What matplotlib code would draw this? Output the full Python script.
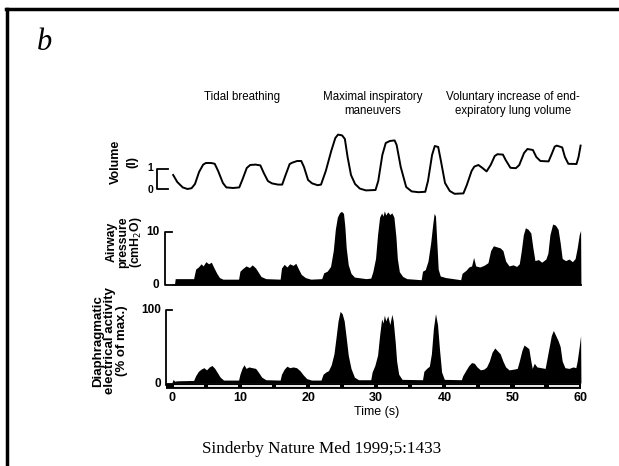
import numpy as np
import matplotlib.pyplot as plt
from matplotlib.lines import Line2D

plt.rcParams['font.family'] = ['Liberation Sans', 'DejaVu Sans']

# lung volume (l)
vol_t = [0.2, 0.8, 1.6, 2.3, 2.9, 3.4, 4.0, 4.6, 5.0, 5.8, 6.3, 6.8, 7.5, 8.0, 9.0, 9.9,
         10.4, 11.0, 11.5, 12.3, 13.0, 13.5, 14.1, 14.7, 15.6, 16.2, 16.7, 17.3, 17.7, 18.4,
         19.0, 19.4, 20.0, 20.6, 21.4, 21.9, 22.6, 23.4, 24.0, 24.4, 25.0, 25.4, 25.8, 26.3,
         26.9, 27.6, 28.5, 29.9, 30.3, 30.9, 31.4, 32.0, 32.7, 33.0, 33.6, 34.4, 35.2, 36.2,
         37.2, 37.6, 38.2, 38.6, 39.1, 39.5, 40.1, 40.8, 41.5, 42.8, 43.3, 44.0, 44.4, 45.0,
         45.6, 46.2, 46.8, 47.4, 47.8, 48.6, 49.0, 49.7, 50.5, 51.0, 51.7, 52.2, 53.0, 53.5,
         54.1, 55.3, 55.7, 56.2, 56.5, 57.3, 57.7, 58.2, 59.4, 59.7, 60.0]
vol_l = [0.70, 0.35, 0.08, 0.00, 0.04, 0.25, 0.85, 1.22, 1.30, 1.30, 1.26, 0.90, 0.30, 0.08, 0.05, 0.08,
         0.50, 1.05, 1.20, 1.22, 1.18, 0.80, 0.40, 0.28, 0.22, 0.22, 0.70, 1.25, 1.32, 1.40,
         1.40, 1.10, 0.45, 0.28, 0.19, 0.22, 0.90, 1.90, 2.55, 2.72, 2.68, 2.50, 1.60, 0.70,
         0.25, 0.02, -0.07, -0.05, 0.40, 1.70, 2.30, 2.40, 2.43, 2.20, 1.10, 0.10, -0.12, -0.16,
         -0.14, 0.40, 1.70, 2.15, 2.10, 1.40, 0.30, -0.10, -0.24, -0.22, 0.20, 0.90, 1.12, 1.20,
         1.05, 0.88, 1.20, 1.65, 1.74, 1.72, 1.45, 1.06, 1.04, 1.20, 1.80, 2.00, 1.95, 1.60,
         1.40, 1.38, 1.70, 2.12, 2.17, 2.08, 1.60, 1.26, 1.25, 1.60, 2.17]

# airway pressure (cmH2O)
paw_t = [0.0, 0.4, 0.5, 3.2,
         3.5, 3.9, 4.3, 4.6, 5.0, 5.4, 5.8, 6.2, 6.6, 7.0, 7.5, 9.8,
         10.0, 10.4, 10.9, 11.4, 11.8, 12.3, 12.7, 13.1, 13.8, 15.9,
         16.1, 16.5, 16.9, 17.3, 17.8, 18.2, 18.6, 19.0, 19.6, 20.4, 22.0,
         22.3, 22.8, 23.3, 23.7, 24.0, 24.3, 24.6, 24.9, 25.2, 25.4, 25.6, 25.9, 26.3, 26.8, 28.5,
         29.2, 29.5, 29.9, 30.2, 30.5, 30.8, 31.0, 31.2, 31.4, 31.7, 32.0, 32.3, 32.6, 32.9, 33.1,
         33.4, 33.9, 34.5, 36.6,
         36.8, 37.2, 37.6, 38.0, 38.3, 38.5, 38.7, 38.9, 39.1, 39.4, 40.2, 42.4,
         42.6, 43.2, 43.6, 44.0, 44.3, 44.6, 45.2, 45.8, 46.4, 46.8, 47.2, 47.7, 48.2, 48.6, 49.0,
         49.5, 50.1, 50.6, 51.0,
         51.3, 51.6, 51.9, 52.3, 52.7, 53.0, 53.3, 53.8, 54.3, 54.9, 55.2,
         55.5, 55.9, 56.3, 56.7, 57.0, 57.3, 57.8, 58.3, 58.8, 59.2,
         59.5, 59.8, 60.0, 60.05]
paw_cm = [0.2, 0.2, 1.2, 1.2,
          3.0, 3.4, 4.0, 3.6, 4.4, 4.0, 4.3, 3.2, 2.2, 1.4, 1.1, 1.1,
          2.6, 3.1, 3.6, 3.3, 3.8, 3.2, 2.4, 1.6, 1.2, 1.1,
          3.2, 3.9, 3.4, 4.0, 3.7, 4.1, 3.0, 2.0, 1.4, 1.1, 1.2,
          2.3, 2.6, 3.5, 6.5, 10.5, 12.8, 13.6, 13.9, 13.5, 11.0, 7.0, 3.8, 2.2, 1.5, 1.2,
          1.3, 2.5, 5.0, 9.5, 12.8, 13.6, 13.0, 14.0, 13.2, 13.8, 13.3, 13.6, 12.8, 9.0, 5.0,
          2.5, 1.6, 1.2, 1.0,
          2.6, 2.9, 4.5, 8.0, 11.5, 13.5, 13.0, 8.0, 3.0, 1.7, 1.4, 1.0,
          2.2, 2.8, 3.4, 3.6, 5.2, 3.6, 3.4, 3.7, 4.2, 6.5, 7.4, 7.2, 7.0, 6.5, 4.5,
          3.6, 3.8, 3.5, 4.0,
          6.5, 9.5, 10.8, 10.5, 9.8, 7.0, 4.6, 4.8, 4.3, 4.9, 6.0,
          9.5, 11.5, 11.3, 10.5, 8.0, 5.0, 4.6, 4.9, 4.4, 5.0,
          7.0, 9.5, 10.3, 0.0]

# diaphragm electrical activity (% of max.)
edi_t = [0.0, 0.2, 0.4, 0.8, 3.2,
         3.5, 3.9, 4.3, 4.7, 5.1, 5.5, 5.9, 6.3, 6.7, 7.1, 7.6, 9.8,
         10.0, 10.3, 10.6, 10.9, 11.3, 11.8, 12.3, 12.7, 13.2, 13.8, 15.9,
         16.1, 16.5, 16.9, 17.3, 17.8, 18.3, 18.8, 19.3, 19.8, 20.5, 21.9,
         22.2, 22.6, 23.0, 23.4, 23.8, 24.1, 24.4, 24.7, 25.0, 25.3, 25.6, 25.9, 26.3, 26.8, 27.4,
         29.2, 29.4, 29.8, 30.2, 30.5, 30.8, 31.0, 31.2, 31.4, 31.7, 32.0, 32.3, 32.5, 32.8,
         33.0, 33.3, 33.8, 36.8,
         37.0, 37.4, 37.8, 38.1, 38.4, 38.7, 39.0, 39.3, 39.6, 40.0, 42.5,
         42.7, 43.2, 43.6, 44.0, 44.4, 44.8, 45.3, 45.8, 46.2, 46.6, 47.0, 47.4, 47.8, 48.2,
         48.6, 49.0, 49.5, 50.2, 50.7,
         51.0, 51.4, 51.7, 52.0, 52.4, 52.7, 52.9, 53.2, 53.6, 54.2, 54.8,
         55.0, 55.3, 55.7, 56.0, 56.3, 56.7, 57.0, 57.3, 57.7, 58.3, 58.9, 59.3,
         59.5, 59.8, 60.0, 60.05]
edi_pct = [0, 5, 2.5, 3, 3.5,
           10, 16, 19, 21, 18, 22, 24, 20, 14, 8, 4, 4,
           12, 20, 25, 20, 22, 21, 20, 15, 8, 4.5, 4,
           12, 19, 23, 21, 22, 21, 17, 11, 6, 4, 4,
           12, 15, 17, 25, 40, 62, 85, 98, 95, 85, 62, 38, 20, 8, 4.5,
           4.5, 15, 24, 38, 65, 88, 82, 93, 85, 92, 80, 94, 85, 55,
           30, 12, 5, 4.5,
           16, 20, 23, 40, 75, 95, 80, 45, 15, 5, 4.5,
           10, 18, 24, 28, 27, 22, 18, 19, 22, 30, 42, 48, 44, 40,
           30, 22, 18, 19, 20,
           30, 45, 52, 50, 47, 30, 20, 27, 22, 21, 20,
           30, 45, 65, 72, 66, 58, 50, 30, 21, 20, 22, 21,
           30, 50, 65, 0]

time_ticks = [0, 10, 20, 30, 40, 50, 60]
phase_names = ['Tidal breathing', 'Maximal inspiratory\nmaneuvers',
               'Voluntary increase of end-\nexpiratory lung volume']
phase_x = [242, 373, 513]

W, H = 619, 466
fig = plt.figure(figsize=(W / 100, H / 100), dpi=100)


def box(left, top, right, bottom):
    return [left / W, 1 - bottom / H, (right - left) / W, (bottom - top) / H]


X0, X1 = 165, 584
XL = (-1, 60.5)
ax_v = fig.add_axes(box(X0, 129, X1, 199))
ax_p = fig.add_axes(box(X0, 208.15, X1, 287.65))
ax_e = fig.add_axes(box(X0, 306.35, X1, 388.84))
for ax in (ax_v, ax_p, ax_e):
    ax.set_xlim(*XL)
    ax.axis('off')
ax_v.set_ylim(-0.5, 3.0)
ax_p.set_ylim(-0.5, 14.5)
ax_e.set_ylim(-8, 105)

k = 'black'
tfs = 8.5
fw = 'bold'
# volume trace + 1 l bracket
ax_v.plot(vol_t, vol_l, color=k, lw=1.4)
ax_v.plot([-0.6, -2.2, -2.2, -0.6], [1, 1, 0, 0], color=k, lw=1.3, clip_on=False)
ax_v.text(-2.7, 1.05, '1', ha='right', va='center', fontsize=tfs - 1, weight=fw)
ax_v.text(-2.7, -0.05, '0', ha='right', va='center', fontsize=tfs - 1, weight=fw)

# airway pressure
ax_p.fill_between(paw_t, 0, paw_cm, color=k, lw=0)
ax_p.plot([0.0, -1.0, -1.0, 60.05], [10, 10, 0, 0], color=k, lw=1.3, clip_on=False)
ax_p.text(-1.8, 10, '10', ha='right', va='center', fontsize=tfs, weight=fw)
ax_p.text(-1.8, 0, '0', ha='right', va='center', fontsize=tfs, weight=fw)

# diaphragm EMG
ax_e.fill_between(edi_t, 0, edi_pct, color=k, lw=0)
ax_e.plot([0.0, -0.85, -0.85], [100, 100, -3], color=k, lw=1.3, clip_on=False)
ax_e.text(-1.6, 100, '100', ha='right', va='center', fontsize=tfs, weight=fw)
ax_e.text(-1.6, -1, '0', ha='right', va='center', fontsize=tfs, weight=fw)
# time marker bar
ax_e.plot([-0.85, 60.05], [-3.5, -3.5], color=k, lw=4.2, solid_capstyle='butt')
for a in range(0, 60, 5):
    ax_e.plot([a + 0.3, a + 4.7], [-3.5, -3.5], color='white', lw=1.3, solid_capstyle='butt')
for t in time_ticks:
    ax_e.text(t, -20, str(t), ha='center', va='center', fontsize=9, weight=fw)
ax_e.text(30, -40, 'Time (s)', ha='center', va='center', fontsize=9)

# y labels
fig.text(124 / W, 1 - 162 / H, 'Volume\n(l)', rotation=90, ha='center', va='center',
         fontsize=9, weight=fw, linespacing=1.5)
fig.text(125 / W, 1 - 242 / H, 'Airway\npressure\n(cmH$_2$O)', rotation=90, ha='center',
         va='center', fontsize=8.8, weight=fw, linespacing=0.95)
fig.text(110 / W, 1 - 341 / H, 'Diaphragmatic\nelectrical activity\n(% of max.)', rotation=90,
         ha='center', va='center', fontsize=9.5, weight=fw, linespacing=1.0)

# phase headers
for name, x in zip(phase_names, phase_x):
    fig.text(x / W, 1 - 91 / H, name, ha='center', va='top', fontsize=8.3, linespacing=1.2)

fig.text(44 / W, 1 - 43 / H, 'b', family='Liberation Serif', style='italic', fontsize=22,
         ha='center', va='center')
fig.text(322 / W, 1 - 449 / H, 'Sinderby Nature Med 1999;5:1433', family='Liberation Serif',
         fontsize=12.3, ha='center', va='center')

# slide frame
fig.add_artist(Line2D([7 / W, 7 / W], [0, 1 - 9 / H], color=k, lw=2.5))
fig.add_artist(Line2D([6 / W, 1], [1 - 9 / H, 1 - 9 / H], color=k, lw=2.5))

fig.savefig('out.png', dpi=100)
